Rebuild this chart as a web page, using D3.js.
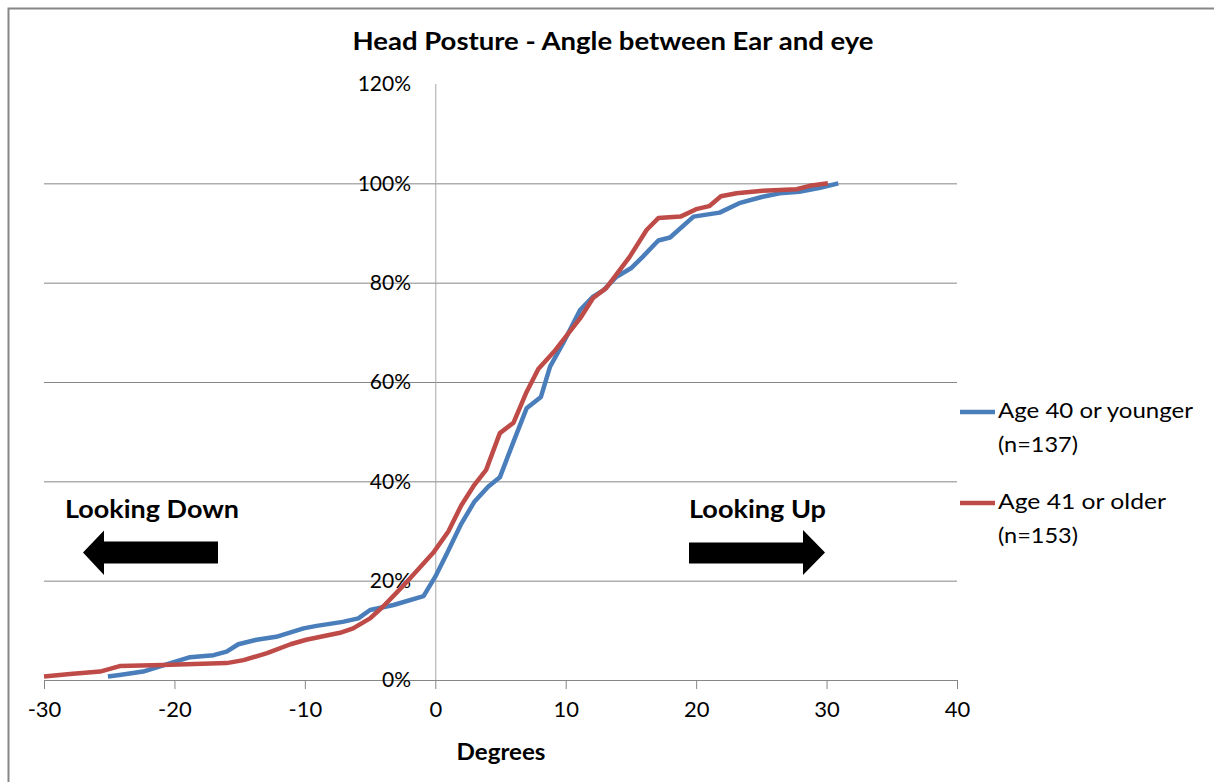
<!DOCTYPE html>
<html><head><meta charset="utf-8">
<script src="https://cdn.jsdelivr.net/npm/d3@7"></script>
<style>html,body{margin:0;padding:0;background:#fff;}svg{display:block;}</style>
</head><body>
<script>
// ---- data ----
const seriesNames = ["Age 40 or younger", "Age 41 or older"];
const seriesNotes = ["(n=137)", "(n=153)"];
const seriesColors = ["#4a7ebb", "#be4b48"];
const youngDeg = [-25.1,-24.2,-22.4,-20.3,-18.8,-17.0,-16.0,-15.1,-13.7,-12.2,-10.1,-9.1,-7.1,-5.9,-5.0,-3.2,-0.9,0,0.9,2.0,3.0,4.05,4.95,6.0,7.0,8.1,8.8,9.8,11.1,12.1,12.9,13.9,15.0,15.9,17.1,18.0,19.8,21.8,23.3,25.1,26.4,27.9,29.5,30.9];
const youngPct = [0.7,1.0,1.7,3.4,4.6,5.0,5.7,7.2,8.1,8.7,10.4,10.9,11.7,12.4,14.1,15.1,16.9,20.8,25.5,31.5,35.9,38.9,40.8,48.0,54.7,57.0,63.1,67.8,74.5,77.2,78.5,81.2,82.9,85.2,88.5,89.1,93.3,94.1,96.0,97.3,98.0,98.3,99.1,100];
const olderDeg = [-30,-28,-25.7,-24.2,-20.9,-16.0,-14.7,-12.9,-11.1,-9.9,-7.3,-6.3,-5.0,-4.0,-3.0,-2.0,-0.16,1.0,2.0,3.0,3.9,4.95,6.0,7.0,7.9,9.2,11.1,12.1,13.1,14.9,16.2,17.1,18.8,20.0,21.0,21.9,23.1,25.1,27.7,28.7,30.1];
const olderPct = [0.7,1.2,1.7,2.8,3.0,3.4,4.0,5.4,7.2,8.1,9.5,10.4,12.4,14.8,17.5,20.3,25.6,29.9,35.2,39.3,42.3,49.7,51.8,58.0,62.6,66.4,72.8,76.9,78.9,85.2,90.6,93.0,93.3,94.8,95.4,97.4,98.0,98.5,98.8,99.5,100];
const xTicks = [-30,-20,-10,0,10,20,30,40];
const yTicks = [0,0.2,0.4,0.6,0.8,1.0,1.2];
const titleText = "Head Posture - Angle between Ear and eye";
const xTitle = "Degrees";
const leftNote = "Looking Down";
const rightNote = "Looking Up";

// ---- chart ----
const W = 1214, H = 782;
const svg = d3.select("body").append("svg").attr("width", W).attr("height", H);
const font = "Lato, 'Liberation Sans', sans-serif";

svg.append("rect").attr("x", 8.5).attr("y", 8.5).attr("width", W + 20).attr("height", H + 20)
  .attr("fill", "#fff").attr("stroke", "#878787").attr("stroke-width", 2);

const x = d3.scaleLinear().domain([-30, 40]).range([44, 957]);
const y = d3.scaleLinear().domain([0, 1.2]).range([680, 84]);

// gridlines
svg.append("g").selectAll("line").data(yTicks.filter(t => t > 0 && t < 1.2)).join("line")
  .attr("x1", x(-30)).attr("x2", x(40)).attr("y1", d => y(d) + 0.5).attr("y2", d => y(d) + 0.5)
  .attr("stroke", "#868686").attr("stroke-width", 1);

// y axis line at x=0
svg.append("line").attr("x1", x(0) + 0.5).attr("x2", x(0) + 0.5).attr("y1", y(1.2)).attr("y2", y(0))
  .attr("stroke", "#a6a6a6").attr("stroke-width", 1);

// x axis
const xAxis = d3.axisBottom(x).tickValues(xTicks).tickSize(9).tickPadding(12).tickFormat(d => String(d));
const gx = svg.append("g").attr("transform", `translate(0,${y(0)})`).call(xAxis);
gx.select(".domain").attr("stroke", "#868686").attr("d", `M${x(-30)},0.5H${x(40)}`);
gx.selectAll(".tick line").attr("stroke", "#868686");
gx.selectAll(".tick text").attr("font-family", font).attr("font-size", 22).attr("fill", "#000");

// y labels
const yAxis = d3.axisLeft(y).tickValues(yTicks).tickSize(0).tickPadding(0).tickFormat(d3.format(".0%"));
const gy = svg.append("g").attr("transform", `translate(411,0)`).call(yAxis);
gy.select(".domain").remove();
gy.selectAll(".tick text").attr("font-family", font).attr("font-size", 21).attr("fill", "#000");

// lines
const line = d3.line().x(d => x(d[0])).y(d => y(d[1] / 100));
const young = youngDeg.map((d, i) => [d, youngPct[i]]);
const older = olderDeg.map((d, i) => [d, olderPct[i]]);
[young, older].forEach((data, i) => {
  svg.append("path").datum(data).attr("d", line).attr("fill", "none")
    .attr("stroke", seriesColors[i]).attr("stroke-width", 4.5).attr("stroke-linejoin", "round");
});

// title
svg.append("text").attr("x", 613).attr("y", 50).attr("text-anchor", "middle")
  .attr("font-family", font).attr("font-weight", "bold").attr("font-size", 25)
  .attr("textLength", 521).attr("lengthAdjust", "spacingAndGlyphs").text(titleText);

// x axis title
svg.append("text").attr("x", 501).attr("y", 760).attr("text-anchor", "middle")
  .attr("font-family", font).attr("font-weight", "bold").attr("font-size", 23)
  .attr("textLength", 89).attr("lengthAdjust", "spacingAndGlyphs").text(xTitle);

// notes
svg.append("text").attr("x", 65).attr("y", 518).attr("font-family", font).attr("font-weight", "bold")
  .attr("font-size", 24).attr("textLength", 174).attr("lengthAdjust", "spacingAndGlyphs").text(leftNote);
svg.append("text").attr("x", 689).attr("y", 518).attr("font-family", font).attr("font-weight", "bold")
  .attr("font-size", 24).attr("textLength", 137).attr("lengthAdjust", "spacingAndGlyphs").text(rightNote);

// arrows
svg.append("path").attr("fill", "#000")
  .attr("d", "M83,552.5 L104,530.5 L104,541.5 L218,541.5 L218,563.5 L104,563.5 L104,575 Z");
svg.append("path").attr("fill", "#000")
  .attr("d", "M689,542.5 L803,542.5 L803,530 L825,552.5 L803,575 L803,563.5 L689,563.5 Z");

// legend
const legY = [412, 503];
const legW = [195, 168];
const noteW = [80, 80];
seriesNames.forEach((name, i) => {
  const g = svg.append("g");
  g.append("line").attr("x1", 960).attr("x2", 995).attr("y1", legY[i]).attr("y2", legY[i])
    .attr("stroke", seriesColors[i]).attr("stroke-width", 4.5);
  g.append("text").attr("x", 998).attr("y", legY[i] + 6).attr("font-family", font).attr("font-size", 22)
    .attr("textLength", legW[i]).attr("lengthAdjust", "spacingAndGlyphs").text(name);
  g.append("text").attr("x", 998).attr("y", legY[i] + 40).attr("font-family", font).attr("font-size", 22)
    .attr("textLength", noteW[i]).attr("lengthAdjust", "spacingAndGlyphs").text(seriesNotes[i]);
});
</script>
</body></html>
